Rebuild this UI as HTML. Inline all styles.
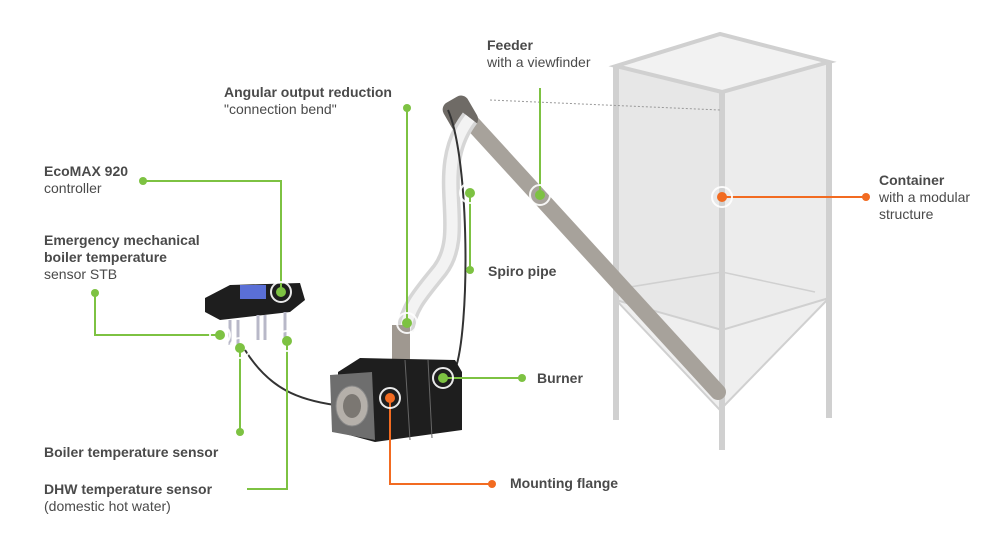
<!DOCTYPE html>
<html><head><style>
html,body{margin:0;padding:0;background:#fff}
svg{display:block}
text{font-family:"Liberation Sans",sans-serif;font-size:14px;fill:#4a4a4a}
.b{font-weight:bold}
</style></head><body>
<svg width="1000" height="538" viewBox="0 0 1000 538">
<!-- container -->
<g stroke="#d0d0d0" fill="none">
<polygon points="616,66 722,92 722,330 616,300" fill="#e7e7e7" stroke="none"/>
<polygon points="722,92 829,62 829,298 722,330" fill="#ececec" stroke="none"/>
<polygon points="616,300 722,330 829,298 720,410" fill="#efefef" stroke="none"/>
<polygon points="616,66 720,34 829,62 722,92" fill="#f2f2f2" stroke-width="4"/>
<line x1="616" y1="66" x2="616" y2="420" stroke-width="6"/>
<line x1="722" y1="92" x2="722" y2="450" stroke-width="6"/>
<line x1="829" y1="62" x2="829" y2="418" stroke-width="6"/>
<polyline points="616,300 722,330 829,298" stroke-width="2"/>
<polyline points="630,287 722,272 815,292" stroke-width="1.5"/>
<polyline points="616,300 720,410 829,298" stroke-width="2"/>
</g>
<line x1="490" y1="100" x2="720" y2="110" stroke="#999" stroke-dasharray="2,2"/>
<!-- feeder tube -->
<line x1="462" y1="112" x2="718" y2="392" stroke="#a7a29b" stroke-width="16" stroke-linecap="round"/>
<rect x="446" y="98" width="28" height="34" rx="8" fill="#6f6b66" transform="rotate(-30 459 114)"/>
<!-- spiro hose -->
<path d="M470,118 C430,170 470,230 440,270 C420,295 410,305 405,330" stroke="#d6d6d6" stroke-width="18" fill="none"/>
<path d="M470,118 C430,170 470,230 440,270 C420,295 410,305 405,330" stroke="#f3f3f3" stroke-width="11" fill="none"/>
<rect x="392" y="325" width="18" height="45" fill="#9f9890"/>
<!-- cable -->
<path d="M448,110 C470,160 470,330 455,370" stroke="#333" stroke-width="2" fill="none"/>
<path d="M245,350 C270,390 300,400 335,405" stroke="#333" stroke-width="2" fill="none"/>
<!-- burner -->
<polygon points="338,372 360,358 455,360 462,372 462,430 375,442 338,432" fill="#1e1e1e"/>
<line x1="405" y1="360" x2="410" y2="440" stroke="#666"/>
<line x1="428" y1="360" x2="432" y2="438" stroke="#666"/>
<polygon points="330,375 372,372 375,440 332,432" fill="#6e6e6e"/>
<ellipse cx="352" cy="406" rx="16" ry="20" fill="#b5b0aa" stroke="#888"/>
<ellipse cx="352" cy="406" rx="9" ry="12" fill="#7b7772"/>
<!-- controller -->
<polygon points="205,298 230,285 300,283 305,300 290,312 220,320 205,312" fill="#1e1e1e"/>
<rect x="240" y="285" width="26" height="14" fill="#5a6fd6"/>
<g stroke="#b8b8c8" stroke-width="3" fill="none">
<path d="M230,320 v25 M238,320 v30 M258,315 v25 M265,315 v25 M285,312 v25"/>
</g>
<!-- connectors -->
<g stroke="#7dc242" stroke-width="2" fill="none">
<polyline points="540,88 540,195"/>
<polyline points="407,108 407,323"/>
<polyline points="143,181 281,181 281,292"/>
<polyline points="95,293 95,335 220,335"/>
<polyline points="240,432 240,348"/>
<polyline points="247,489 287,489 287,341"/>
<polyline points="470,270 470,193"/>
<polyline points="522,378 443,378"/>
</g>
<g stroke="#f26b21" stroke-width="2" fill="none">
<polyline points="492,484 390,484 390,398"/>
<polyline points="866,197 722,197"/>
</g>
<g fill="none" stroke="#fff" stroke-width="2" opacity="0.9">
<circle cx="540" cy="195" r="10"/><circle cx="407" cy="323" r="10"/><circle cx="281" cy="292" r="10"/>
<circle cx="220" cy="335" r="10"/><circle cx="240" cy="348" r="10"/><circle cx="287" cy="341" r="10"/>
<circle cx="470" cy="193" r="10"/><circle cx="443" cy="378" r="10"/><circle cx="390" cy="398" r="10"/>
<circle cx="722" cy="197" r="10"/>
</g>
<g fill="#7dc242">
<circle cx="540" cy="195" r="5"/><circle cx="407" cy="323" r="5"/><circle cx="281" cy="292" r="5"/>
<circle cx="220" cy="335" r="5"/><circle cx="240" cy="348" r="5"/><circle cx="287" cy="341" r="5"/>
<circle cx="470" cy="193" r="5"/><circle cx="443" cy="378" r="5"/>
<circle cx="407" cy="108" r="4"/><circle cx="143" cy="181" r="4"/><circle cx="95" cy="293" r="4"/>
<circle cx="240" cy="432" r="4"/><circle cx="470" cy="270" r="4"/><circle cx="522" cy="378" r="4"/>
</g>
<g fill="#f26b21">
<circle cx="390" cy="398" r="5"/><circle cx="722" cy="197" r="5"/>
<circle cx="492" cy="484" r="4"/><circle cx="866" cy="197" r="4"/>
</g>
<!-- labels -->
<text x="487" y="50" class="b">Feeder</text>
<text x="487" y="67">with a viewfinder</text>
<text x="224" y="97" class="b">Angular output reduction</text>
<text x="224" y="114">"connection bend"</text>
<text x="44" y="176" class="b">EcoMAX 920</text>
<text x="44" y="193">controller</text>
<text x="44" y="245" class="b">Emergency mechanical</text>
<text x="44" y="262" class="b">boiler temperature</text>
<text x="44" y="279">sensor STB</text>
<text x="44" y="457" class="b">Boiler temperature sensor</text>
<text x="44" y="494" class="b">DHW temperature sensor</text>
<text x="44" y="511">(domestic hot water)</text>
<text x="488" y="276" class="b">Spiro pipe</text>
<text x="537" y="383" class="b">Burner</text>
<text x="510" y="488" class="b">Mounting flange</text>
<text x="879" y="185" class="b">Container</text>
<text x="879" y="202">with a modular</text>
<text x="879" y="219">structure</text>
</svg>
</body></html>
